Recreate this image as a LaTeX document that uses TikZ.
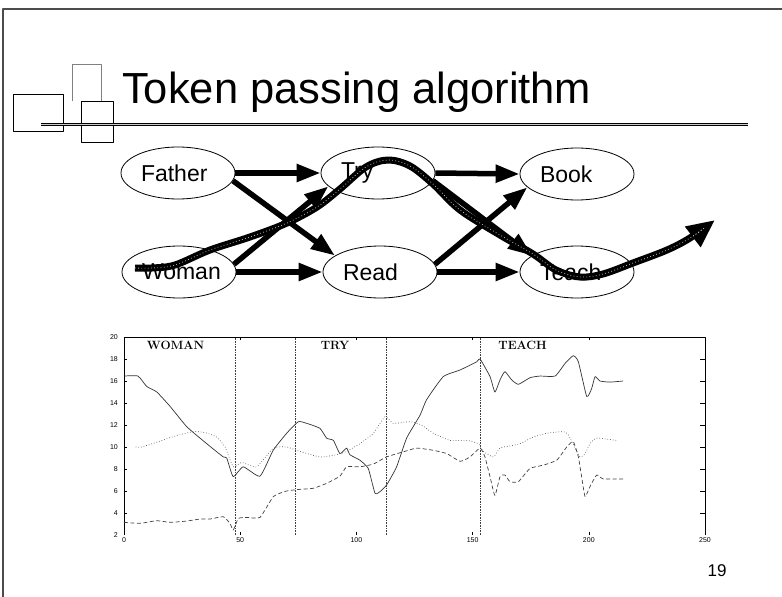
\documentclass[tikz,border=0pt]{standalone}
\usepackage{fontspec}
\setmainfont{Liberation Sans}
\newfontfamily\seriftrace{Latin Modern Roman}
\usetikzlibrary{shapes.geometric,arrows.meta}

\begin{document}
\begin{tikzpicture}[x=1pt,y=-1pt,line join=round,
	mot/.style={draw,ellipse,line width=0.8pt,minimum width=114pt,minimum height=52pt,inner sep=0pt,text width=74pt,align=left,font=\fontsize{23}{26}\selectfont},
	fleche/.style={line width=5.5pt,-{Triangle[length=24pt,width=17pt]}},
	jeton/.style={line width=7pt,-{Triangle[length=28pt,width=24pt]},postaction={draw=gray!60,line width=0.8pt,dash pattern=on 0.8pt off 2.4pt,arrows=-,shorten >=27pt}},
	graduation/.style={inner sep=0pt,font=\fontsize{7}{7}\selectfont}]
	\useasboundingbox (0,0) rectangle (782,597) ;
	%cadre
	\draw[line width=2pt,gray!60!black] (782,9)--(3,9)--(3,597) ;
	\draw[line width=0.8pt,gray] (72,101)--(72,64)--(101,64)--(101,101) ;
	\draw[line width=0.8pt] (13,94) rectangle (63,131) ;
	\draw[line width=0.8pt,fill=white] (81,101) rectangle (113,142) ;
	\draw[line width=0.7pt,double=gray!40,double distance=1.6pt] (41,124.5)--(748,124.5) ;
	\node[anchor=base west,inner sep=0pt,font=\fontsize{43.5}{50}\selectfont] (titre) at (122,103) {Token passing algorithm} ;
	%mots
	\node[mot] (father) at (178,173) {Father} ;
	\node[mot] (try) at (378,173) {Try} ;
	\node[mot] (book) at (577,174) {Book} ;
	\node[mot] (woman) at (179,272) {Woman} ;
	\node[mot] (read) at (380,272) {Read} ;
	\node[mot] (teach) at (577,272) {Teach} ;
	%arcs
	\draw[fleche] (father.east)--(try.west) ;
	\draw[fleche] (father.-8)--(read.160) ;
	\draw[fleche] (woman.8)--(try.195) ;
	\draw[fleche] (woman.east)--(read.west) ;
	\draw[fleche] (try.east)--(book.west) ;
	\draw[fleche] (try.-8)--(teach.160) ;
	\draw[fleche] (read.8)--(book.195) ;
	\draw[fleche] (read.east)--(teach.west) ;
	%jeton
	\draw[jeton] plot[smooth,tension=0.55] coordinates {(135,268) (152,268) (175,265) (210,250) (250,237) (287,223) (317,207) (340,189) (366,167) (388,160) (410,166) (433,184) (460,210) (500,235) (533,254) (556,270) (580,277) (603,274) (633,263) (667,250) (690,238) (715,220)} ;
	%courbes
	\begin{scope}[shift={(124,557)},x=2.324pt,y=11pt]
		\draw[line width=0.6pt] (0,2)--(0,20)--(250,20)--(250,2) ;
		\foreach \v in {4,6,...,18} {
			\draw[line width=0.5pt] (0,\v)--++(3pt,0) ;
			\draw[line width=0.5pt] (250,\v)--++(-5pt,0) ;
		}
		\foreach \t in {50,100,150,200} {
			\draw[line width=0.5pt] (\t,20)--++(0,-3pt) ;
			\draw[line width=0.5pt] (\t,2)--++(0,3pt) ;
		}
		\foreach \v in {2,4,...,20}
			\node[graduation,anchor=east] at ([xshift=-6pt]0,\v) {\v} ;
		\foreach \t in {0,50,...,250}
			\node[graduation,anchor=north] at ([yshift=-2pt]\t,2) {\t} ;
		\foreach \t in {47.8,73.6,112.7,153.2}
			\draw[densely dotted,gray!50!black,line width=0.6pt] (\t,2)--(\t,20) ;
		\foreach \Pos/\Nom in {22.2/WOMAN,90.8/TRY,171.5/TEACH}
			\node[font={\seriftrace\bfseries\fontsize{12}{12}\selectfont}] at (\Pos,19.2) {\Nom} ;
		\draw[gray!40!black,line width=0.7pt] plot[smooth,tension=0.3] coordinates {(0,16.45) (6,16.45) (9.8,15.5) (14.1,15.0) (19.8,13.7) (27,11.85) (35.6,10.3) (42.7,9.1) (44.2,9.0) (47,7.3) (51.3,8.2) (58.5,7.35) (64.2,9.7) (70,11.25) (75,12.3) (78.6,12.15) (84.3,11.7) (87.2,10.8) (90.1,10.6) (92.9,9.4) (95.8,9.9) (97.2,9.3) (101.5,8.8) (105.1,8.05) (108,5.8) (110.2,5.95) (113,6.55) (117.3,8.2) (121.6,10.8) (127.4,12.9) (130.2,14.3) (137.4,16.4) (144.6,17) (151.8,17.75) (153.2,18) (157.5,16.4) (159.6,15) (161.8,16.1) (163.9,16.85) (166.8,16.1) (169.7,15.7) (174.7,16.3) (179,16.45) (185.5,16.45) (189.8,17.6) (193.3,18.3) (195.5,17.75) (199.1,14.6) (201.2,15.3) (202.7,16.4) (204.8,16) (209.1,15.9) (214.8,16)} ;
		\draw[gray!70!black,dotted,line width=0.7pt] plot[smooth,tension=0.3] coordinates {(5,10) (7.6,10) (15,10.5) (22,11) (29.8,11.4) (35,11.3) (39.9,10.9) (43.5,10) (47,8.2) (50.6,8.6) (57.1,8.2) (64.3,9.9) (70,10) (75.7,9.6) (84.3,9.1) (91.5,9.3) (95.8,9.6) (101.5,10.3) (107.3,11.25) (112.3,12.75) (115.9,12.15) (123.1,12.3) (128,12) (133.1,11.25) (140.3,10.6) (147.5,10.6) (152.5,10.3) (154.6,9.6) (158.9,9.1) (161.8,9.9) (166.1,10.1) (170.4,10.3) (176.1,10.9) (181.9,11.25) (189,11.4) (191.2,11.1) (193.4,10.2) (196.2,9.1) (198.4,9.4) (200.5,10.3) (203.4,10.8) (212,10.6)} ;
		\draw[gray!50!black,dash pattern=on 4pt off 2.5pt,line width=0.7pt] plot[smooth,tension=0.3] coordinates {(0,3.15) (6.9,3.06) (14.1,3.3) (19.8,3.15) (27,3.27) (32.7,3.45) (37,3.45) (42.7,3.66) (45.6,3.06) (47,2.45) (49.2,3.5) (52.8,3.6) (58.5,3.6) (64.3,5.5) (70,6) (75.7,6.15) (81.5,6.25) (87.2,6.7) (92.9,7.35) (95.8,8.2) (101.5,8.2) (107.3,8.45) (113,9.1) (121.6,9.65) (126,9.9) (133.1,9.7) (138.9,9.4) (144.6,8.7) (148.9,9.1) (153.2,9.9) (155.3,9.1) (157.5,7.3) (159.6,5.6) (161.8,7.3) (163.9,7.45) (166.1,6.85) (169.7,6.85) (174.7,8.05) (180.4,8.35) (186.2,8.8) (190.5,10) (193.3,10.5) (195.5,9.1) (196.9,7.3) (198.4,5.5) (200.5,6.4) (203.4,7.45) (206.2,7.1) (214.8,7.1)} ;
	\end{scope}
	%page
	\node[font=\fontsize{17}{17}\selectfont,inner sep=0pt] (page) at (717,571) {19} ;
\end{tikzpicture}
\end{document}
